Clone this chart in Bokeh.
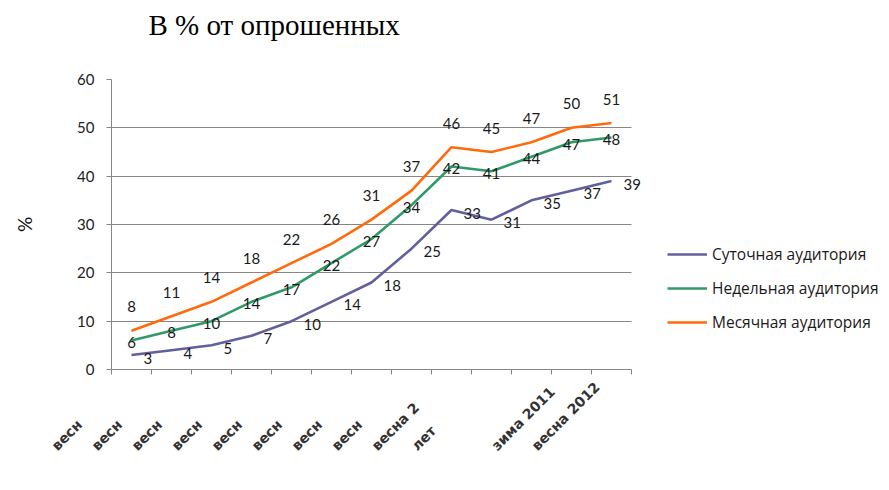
import math
from bokeh.plotting import figure
from bokeh.layouts import column
from bokeh.models import Range1d, FixedTicker, ColumnDataSource, LabelSet
from bokeh.core.properties import value
from bokeh.embed import file_html
from bokeh.resources import INLINE

# ---- data ----
categories = ["весн", "весн", "весн", "весн", "весн", "весн", "весн", "весн",
              "весна 2", "лет", "", "зима 2011", "весна 2012"]
daily = [3, 4, 5, 7, 10, 14, 18, 25, 33, 31, 35, 37, 39]
weekly = [6, 8, 10, 14, 17, 22, 27, 34, 42, 41, 44, 47, 48]
monthly = [8, 11, 14, 18, 22, 26, 31, 37, 46, 45, 47, 50, 51]
series_names = ["Суточная аудитория", "Недельная аудитория", "Месячная аудитория"]
y_ticks = [0, 10, 20, 30, 40, 50, 60]
title_text = "В % от опрошенных"
y_label = "%"

colors = ["#625F9E", "#2F9A68", "#FF6A0D"]
FONT = "Lato"

# ---- layout constants (pixels) ----
W, H = 889, 490
LEFT, TOP, PLOT_W, PLOT_H = 111, 79, 520, 290
T_H = 69                      # title strip height
PAD_TOP = TOP - T_H
AX_BOTTOM = 11
H_MAIN = PAD_TOP + PLOT_H + AX_BOTTOM
H_LAB = H - T_H - H_MAIN

n = len(categories)
unit = PLOT_W / n
xs = [i + 0.5 for i in range(n)]
x_end = (W - LEFT) / unit

# ---- title strip ----
t = figure(width=W, height=T_H, x_range=Range1d(0, W), y_range=Range1d(T_H, 0),
           output_backend="svg", toolbar_location=None,
           x_axis_location=None, y_axis_location=None, min_border=0)
t.outline_line_color = None
t.grid.visible = False
t.frame_align = False
t.text(x=[148], y=[24], text=[title_text], text_font=value("Liberation Serif"),
       text_font_size="29px", text_baseline="alphabetic", text_align="left",
       text_color="#000000")

# ---- main chart ----
p = figure(width=W, height=H_MAIN, x_range=Range1d(0, x_end), y_range=Range1d(0, 60),
           output_backend="svg", toolbar_location=None,
           min_border_left=LEFT, min_border_right=0, min_border_top=PAD_TOP,
           min_border_bottom=AX_BOTTOM)
p.frame_align = False
p.outline_line_color = None
p.background_fill_color = "white"
p.border_fill_color = "white"

p.xgrid.grid_line_color = None
p.ygrid.grid_line_color = "#868686"
p.ygrid.grid_line_width = 1
p.ygrid.ticker = FixedTicker(ticks=y_ticks)
p.ygrid.cross_bounds = (0, n)

p.yaxis.ticker = FixedTicker(ticks=y_ticks)
p.yaxis.axis_line_color = "#868686"
p.yaxis.major_tick_line_color = "#868686"
p.yaxis.major_tick_out = 5
p.yaxis.major_tick_in = 0
p.yaxis.minor_tick_line_color = None
p.yaxis.major_label_text_font = FONT
p.yaxis.major_label_text_font_size = "15px"
p.yaxis.major_label_text_color = "#222222"
p.yaxis.major_label_standoff = 12
p.yaxis.axis_label = y_label
p.yaxis.axis_label_text_font = FONT
p.yaxis.axis_label_text_font_size = "19px"
p.yaxis.axis_label_text_font_style = "normal"
p.yaxis.axis_label_text_color = "#111111"
p.yaxis.axis_label_standoff = 38

p.xaxis.ticker = FixedTicker(ticks=list(range(n + 1)))
p.xaxis.bounds = (0, n)
p.xaxis.axis_line_color = "#868686"
p.xaxis.major_tick_line_color = "#868686"
p.xaxis.major_tick_out = 5
p.xaxis.major_tick_in = 0
p.xaxis.minor_tick_line_color = None
p.xaxis.major_label_text_color = None
p.xaxis.major_label_text_font_size = "0px"
p.xaxis.major_label_standoff = 0

all_series = [daily, weekly, monthly]
for vals, name, col in zip(all_series, series_names, colors):
    p.line(xs, vals, line_color=col, line_width=2.6, legend_label=name)

src = ColumnDataSource(dict(x=xs, d=daily, w=weekly, m=monthly,
                            dt=[str(v) for v in daily], wt=[str(v) for v in weekly],
                            mt=[str(v) for v in monthly]))

common = dict(source=src, text_font=value(FONT), text_font_size="15px", text_color="#1a1a1a")
p.add_layout(LabelSet(x="x", y="m", text="mt", text_align="center", text_baseline="middle",
                      y_offset=24, **common))
p.add_layout(LabelSet(x="x", y="w", text="wt", text_align="center", text_baseline="middle",
                      y_offset=-2, **common))
p.add_layout(LabelSet(x="x", y="d", text="dt", text_align="left", text_baseline="middle",
                      x_offset=12, y_offset=-3, **common))

lg = p.legend[0]
lg.location = (556, 36)
lg.border_line_color = None
lg.background_fill_alpha = 0
lg.padding = 0
lg.margin = 0
lg.spacing = 12
lg.glyph_width = 40
lg.glyph_height = 20
lg.label_height = 20
lg.label_standoff = 5
lg.label_text_font = "Open Sans"
lg.label_text_font_size = "15.5px"
lg.label_text_color = "#1a1a1a"

# ---- strip with the rotated category labels ----
q = figure(width=W, height=H_LAB, x_range=Range1d(-LEFT / unit, x_end),
           y_range=Range1d(-H_LAB, 0), output_backend="svg", toolbar_location=None,
           x_axis_location=None, y_axis_location=None, min_border=0)
q.frame_align = False
q.outline_line_color = None
q.grid.visible = False
q.background_fill_color = "white"
q.border_fill_color = "white"
cat_src = ColumnDataSource(dict(x=xs, y=[0] * n, cat=categories))
q.text(x="x", y="y", text="cat", source=cat_src, angle=math.pi / 4,
       text_align="left", text_baseline="bottom", x_offset=-72, y_offset=84 - AX_BOTTOM,
       text_font=value("DejaVu Sans"), text_font_style="bold",
       text_font_size="14px", text_color="#333333")

open("out.html", "w").write(file_html(column(t, p, q, spacing=0), INLINE))
